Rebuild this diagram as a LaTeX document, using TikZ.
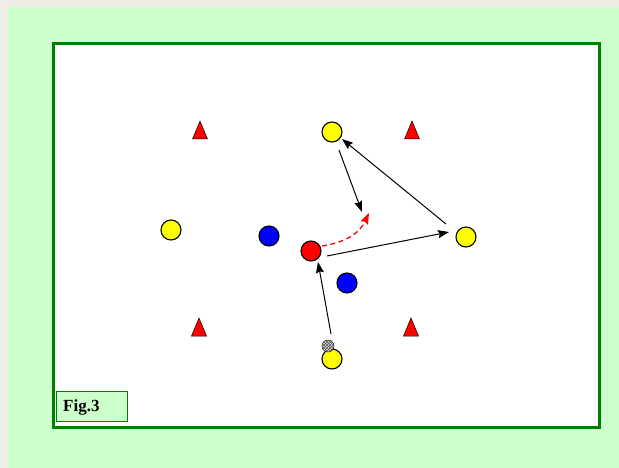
\documentclass[tikz,border=0pt]{standalone}
\usepackage{fontspec}
\setmainfont{Liberation Serif}
\usetikzlibrary{patterns,arrows.meta,calc}
\definecolor{bgoff}{RGB}{238,238,230}
\definecolor{lgreen}{RGB}{204,255,204}
\definecolor{fgreen}{RGB}{0,128,0}
\definecolor{pyellow}{RGB}{255,255,0}
\definecolor{pblue}{RGB}{0,0,255}
\definecolor{pred}{RGB}{255,0,0}
\tikzset{
  pl/.style={circle,draw=black,line width=1.1pt,minimum size=20pt,inner sep=0pt},
  yel/.style={pl,fill=pyellow},
  blu/.style={pl,fill=pblue},
  rd/.style={pl,fill=pred},
  cone/.style={draw=black,line width=0.5pt,fill=pred},
  pass/.style={-{Stealth[length=11pt,width=8pt,inset=1.5pt]},line width=1pt,black},
  run/.style={-{Stealth[length=11pt,width=8pt,inset=1.5pt]},line width=1.3pt,pred,dash pattern=on 5pt off 3.5pt},
}
\begin{document}
\begin{tikzpicture}[x=1pt,y=-1pt]
\useasboundingbox (0,0) rectangle (619,468);
\fill[bgoff] (0,0) rectangle (619,468);
\fill[lgreen] (8,7) rectangle (619,468);
\draw[fgreen,line width=3pt,fill=white] (53,44) rectangle (599,427);
% cones
\foreach \n/\cx/\cy in {c1/200/130,c2/412/130,c3/199/327,c4/411/327}{
  \coordinate (\n) at (\cx,\cy);
  \draw[cone] ($(\n)+(0,-9)$) -- ($(\n)+(7.5,9)$) -- ($(\n)+(-7.5,9)$) -- cycle;
}
% players
\node[yel] (y1) at (332,132) {};
\node[yel] (y2) at (171,230) {};
\node[yel] (y3) at (466,237) {};
\node[yel] (y4) at (332,359) {};
\node[blu] (b1) at (269,236) {};
\node[blu] (b2) at (347,283) {};
\node[rd] (r1) at (311,251) {};
% ball
\node[circle,draw=black,line width=0.5pt,fill=gray!25,minimum size=12pt,inner sep=0pt] (ball) at (328,346) {};
\fill[pattern=crosshatch,pattern color=black!70] (ball.center) circle (5.6pt);
% target coordinates
\coordinate (t1) at (362,212);
\coordinate (t2) at (369,213);
% arrows
\draw[pass] ($(y1)+(7,18)$) -- (t1);
\draw[pass] ($(y3)+(-20,-13)$) -- ($(y1)+(10,7)$);
\draw[pass] ($(r1)+(16,5)$) -- ($(y3)+(-17,-5)$);
\draw[pass] ($(ball)+(3,-12)$) -- ($(r1)+(7,11)$);
\draw[run] ($(r1)+(11,-5)$) .. controls (348,242) and (360,232) .. (t2);
% label
\node[draw=fgreen,line width=0.6pt,fill=lgreen,minimum width=71pt,minimum height=30pt,anchor=north west,inner sep=0pt] (fig) at (56,391) {};
\node[anchor=west,font=\bfseries\fontsize{17}{19}\selectfont,inner sep=0pt] (figt) at (63,407) {Fig.3};
\end{tikzpicture}
\end{document}
